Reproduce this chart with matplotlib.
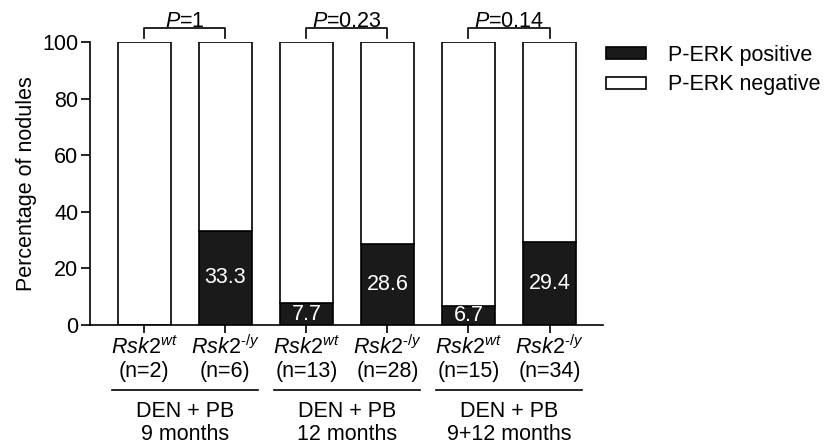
import matplotlib
matplotlib.use("Agg")
import matplotlib.pyplot as plt
from matplotlib.patches import Patch

plt.rcParams['font.family'] = ['Liberation Sans', 'DejaVu Sans']
plt.rcParams['mathtext.fontset'] = 'custom'
plt.rcParams['mathtext.rm'] = 'Liberation Sans'
plt.rcParams['mathtext.it'] = 'Liberation Sans:italic'
plt.rcParams['mathtext.default'] = 'it'

# --- data ---
genotypes = ['wt', '‐/y', 'wt', '‐/y', 'wt', '‐/y']
n_counts = [2, 6, 13, 28, 15, 34]
perk_positive = [0.0, 33.3, 7.7, 28.6, 6.7, 29.4]
perk_negative = [100.0, 66.7, 92.3, 71.4, 93.3, 70.6]
p_values = ['1', '0.23', '0.14']
group_treatment = ['DEN + PB', 'DEN + PB', 'DEN + PB']
group_time = ['9 months', '12 months', '9+12 months']

FS = 15.5
LW = 1.2
x = list(range(len(n_counts)))

fig = plt.figure(figsize=(8.25, 4.46), dpi=100)
ax = fig.add_axes([90 / 825, 1 - 325 / 446, 513 / 825, 283 / 446])

ax.bar(x, perk_positive, width=0.65, color='#1a1a1a', edgecolor='black',
       linewidth=LW, label='P-ERK positive', zorder=2)
ax.bar(x, perk_negative, width=0.65, bottom=perk_positive, color='white',
       edgecolor='black', linewidth=LW, label='P-ERK negative', zorder=2)

# values inside the positive segments
for xi, v in zip(x, perk_positive):
    if v > 0:
        ax.text(xi, v / 2, f'{v:.1f}', color='white', ha='center',
                va='center', fontsize=FS, zorder=3)

ax.set_xlim(-0.67, 5.66)
ax.set_ylim(0, 100)
ax.set_yticks([0, 20, 40, 60, 80, 100])
ax.set_xticks(x)
ax.set_xticklabels([])
ax.tick_params(axis='y', labelsize=FS, length=6.5, width=LW, pad=2)
ax.tick_params(axis='x', length=6, width=LW)
ax.set_ylabel('Percentage of nodules', fontsize=FS, labelpad=4)
for side in ('top', 'right'):
    ax.spines[side].set_visible(False)
for side in ('left', 'bottom'):
    ax.spines[side].set_linewidth(LW)

# genotype and sample-size labels under each bar
for xi, g, n in zip(x, genotypes, n_counts):
    ax.text(xi, -7.8, rf'$Rsk2^{{{g}}}$', ha='center', va='center',
            fontsize=FS, clip_on=False)
    ax.text(xi, -16.6, f'(n={n})', ha='center', va='center',
            fontsize=FS, clip_on=False)

# group lines and treatment labels
for gi in range(3):
    c = 2 * gi + 0.5
    ax.plot([c - 0.9, c + 0.9], [-23, -23], color='black', lw=LW,
            clip_on=False)
    ax.text(c, -30.5, group_treatment[gi], ha='center', va='center',
            fontsize=FS, clip_on=False)
    ax.text(c, -38.6, group_time[gi], ha='center', va='center',
            fontsize=FS, clip_on=False)

# significance brackets
for gi, p in enumerate(p_values):
    a, b = 2 * gi, 2 * gi + 1
    ax.plot([a, a, b, b], [101.4, 105, 105, 101.4], color='black', lw=LW,
            clip_on=False)
    ax.text((a + b) / 2, 107.2, rf'$P$=' + p, ha='center', va='center',
            fontsize=FS, clip_on=False)

handles = [Patch(facecolor='#1a1a1a', edgecolor='black', linewidth=LW),
           Patch(facecolor='white', edgecolor='black', linewidth=LW)]
ax.legend(handles, ['P-ERK positive', 'P-ERK negative'], loc='upper left',
          bbox_to_anchor=(1.005, 0.99), frameon=False, fontsize=FS,
          handlelength=1.9, handleheight=0.5, handletextpad=1.0,
          labelspacing=0.4, borderpad=0, borderaxespad=0)

fig.savefig('out.png', dpi=100)
